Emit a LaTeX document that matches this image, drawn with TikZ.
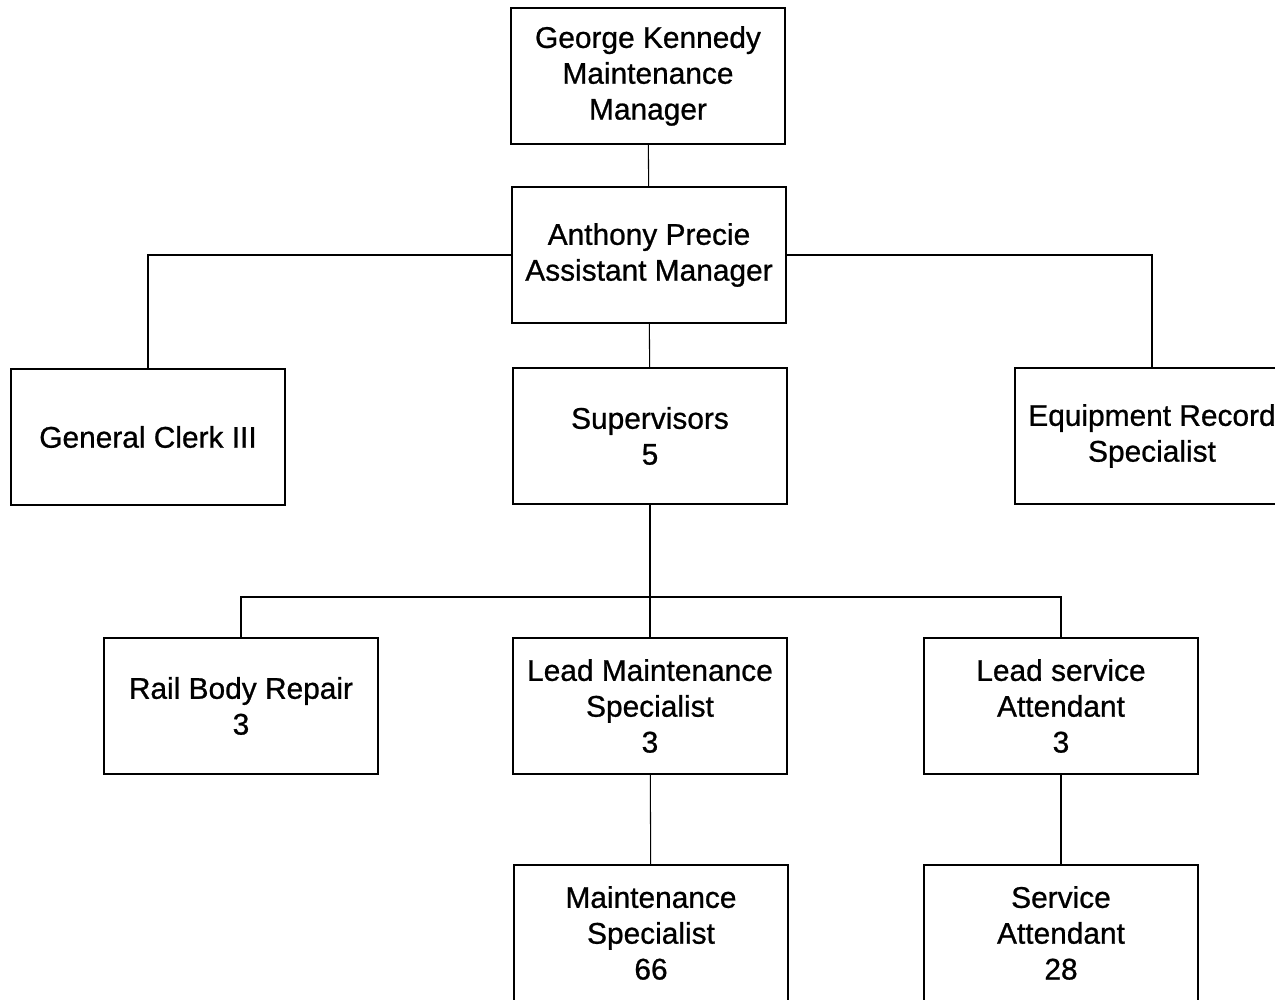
\documentclass[tikz,border=0pt]{standalone}
\usepackage{fontspec}
\setmainfont{Liberation Sans}
\newfontfamily\postfont[FakeBold=0.8]{Liberation Sans}
\begin{document}
\begin{tikzpicture}[x=0.02cm, y=-0.02cm,
  post/.style={draw, line width=1.2pt, minimum width=5.48cm, minimum height=2.72cm,
    inner sep=0pt, align=center, font=\postfont\fontsize{17}{20.4}\selectfont},
  link/.style={line width=0.6pt}]
  \clip (0,0) rectangle (1275,1000);

  \node[post] (manager) at (648,76) {George Kennedy\\Maintenance\\Manager};
  \node[post] (assistant) at (649,255) {Anthony Precie\\Assistant Manager};
  \node[post] (clerk) at (148,437) {General Clerk III};
  \node[post] (supervisors) at (650,436) {Supervisors\\5};
  \node[post] (records) at (1152,436) {Equipment Record\\Specialist};

  \node[post] (bodyrepair) at (241,706) {Rail Body Repair\\3};
  \node[post] (leadmaint) at (650,706) {Lead Maintenance\\Specialist\\3};
  \node[post] (leadservice) at (1061,706) {Lead service\\Attendant\\3};
  \node[post] (maintspec) at (651,933) {Maintenance\\Specialist\\66};
  \node[post] (attendant) at (1061,933) {Service\\Attendant\\28};

  \draw[link] (manager) -- (assistant);
  \draw[link] (assistant.west) -| (clerk.north);
  \draw[link] (assistant.east) -| (records.north);
  \draw[link] (assistant) -- (supervisors);

  \coordinate (split) at (650,597);
  \draw[link] (supervisors) -- (split);
  \foreach \n in {bodyrepair,leadmaint,leadservice}
    \draw[link] (split) -| (\n.north);

  \draw[link] (leadmaint) -- (maintspec);
  \draw[link] (leadservice) -- (attendant);
\end{tikzpicture}
\end{document}
